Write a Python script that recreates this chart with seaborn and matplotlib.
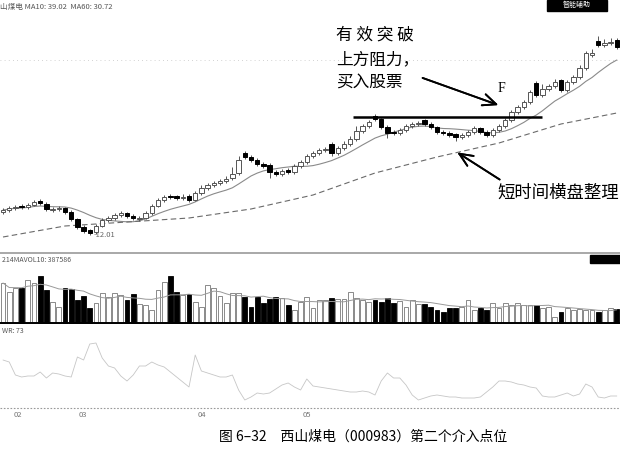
import numpy as np
import pandas as pd
import matplotlib
matplotlib.use("Agg")
import matplotlib.pyplot as plt
import seaborn as sns
from matplotlib.patches import Rectangle

# ---------------- data ----------------
opens = [13.15, 13.25, 13.35, 13.45, 13.40, 13.50, 13.70, 13.55, 13.25, 13.30,
         13.35, 13.15, 12.80, 12.40, 12.25, 12.15, 12.45, 12.75, 12.85, 13.00,
         13.10, 12.95, 12.80, 12.85, 13.10, 13.45, 13.75, 13.95, 13.95, 13.85,
         13.95, 13.75, 14.10, 14.35, 14.50, 14.60, 14.70, 14.85, 15.10, 16.10,
         15.90, 15.75, 15.55, 15.50, 15.15, 15.05, 15.25, 15.15, 15.45, 15.65,
         15.95, 16.10, 16.25, 16.55, 16.10, 16.35, 16.55, 16.80, 17.20, 17.45,
         17.95, 17.80, 17.40, 17.15, 17.10, 17.25, 17.45, 17.55, 17.75, 17.55,
         17.40, 17.15, 17.10, 17.05, 16.90, 17.00, 17.15, 17.35, 17.15, 17.00,
         17.25, 17.45, 17.75, 18.15, 18.40, 18.65, 19.60, 19.00, 19.30, 19.45,
         19.75, 19.25, 19.65, 19.90, 20.35, 21.00, 21.70, 21.50, 21.60, 21.75]
closes = [13.25, 13.35, 13.40, 13.40, 13.50, 13.65, 13.60, 13.30, 13.30, 13.35,
          13.15, 12.80, 12.40, 12.20, 12.10, 12.45, 12.75, 12.85, 13.00, 13.10,
          12.95, 12.85, 12.85, 13.10, 13.45, 13.75, 13.90, 13.90, 13.85, 13.90,
          13.75, 14.10, 14.35, 14.50, 14.60, 14.70, 14.80, 15.05, 15.75, 15.90,
          15.75, 15.55, 15.45, 15.15, 15.05, 15.20, 15.15, 15.45, 15.65, 15.95,
          16.10, 16.25, 16.30, 16.10, 16.35, 16.55, 16.80, 17.20, 17.45, 17.65,
          17.80, 17.40, 17.10, 17.10, 17.25, 17.45, 17.55, 17.60, 17.55, 17.40,
          17.15, 17.10, 17.00, 16.90, 17.00, 17.15, 17.35, 17.15, 17.00, 17.25,
          17.45, 17.75, 18.15, 18.40, 18.65, 19.15, 19.00, 19.30, 19.45, 19.65,
          19.25, 19.65, 19.90, 20.35, 21.10, 21.10, 21.50, 21.60, 21.65, 21.40]
highs = [13.35, 13.45, 13.50, 13.55, 13.60, 13.75, 13.80, 13.65, 13.40, 13.45,
         13.40, 13.25, 12.85, 12.50, 12.30, 12.55, 12.85, 12.95, 13.10, 13.20,
         13.15, 13.05, 12.95, 13.20, 13.55, 13.85, 14.00, 14.05, 14.00, 14.05,
         14.05, 14.20, 14.50, 14.60, 14.70, 14.80, 14.95, 15.40, 15.95, 16.20,
         16.00, 15.85, 15.65, 15.60, 15.25, 15.30, 15.35, 15.55, 15.75, 16.05,
         16.20, 16.35, 16.40, 16.65, 16.45, 16.70, 16.95, 17.45, 17.55, 17.75,
         18.05, 17.85, 17.50, 17.25, 17.35, 17.55, 17.65, 17.70, 17.80, 17.65,
         17.45, 17.25, 17.20, 17.10, 17.10, 17.25, 17.45, 17.40, 17.25, 17.35,
         17.55, 17.85, 18.25, 18.50, 18.75, 19.25, 19.70, 19.55, 19.55, 19.80,
         19.80, 19.75, 20.00, 20.50, 21.20, 21.30, 21.95, 21.80, 21.85, 21.85]
lows = [13.05, 13.15, 13.25, 13.30, 13.30, 13.45, 13.50, 13.20, 13.15, 13.20,
        13.05, 12.70, 12.30, 12.10, 12.01, 12.05, 12.40, 12.65, 12.75, 12.90,
        12.85, 12.75, 12.70, 12.80, 13.00, 13.40, 13.65, 13.80, 13.75, 13.75,
        13.65, 13.70, 14.00, 14.25, 14.40, 14.50, 14.60, 14.75, 15.00, 15.80,
        15.65, 15.45, 15.35, 14.85, 14.95, 14.95, 15.05, 15.05, 15.35, 15.55,
        15.85, 16.00, 16.15, 15.95, 16.00, 16.25, 16.45, 16.70, 17.10, 17.35,
        17.70, 17.30, 16.85, 17.00, 17.00, 17.15, 17.35, 17.45, 17.45, 17.30,
        17.05, 17.00, 16.90, 16.70, 16.80, 16.90, 17.05, 17.05, 16.90, 16.90,
        17.15, 17.35, 17.65, 18.05, 18.30, 18.55, 18.90, 18.90, 19.20, 19.35,
        19.15, 19.15, 19.55, 19.80, 20.25, 20.90, 21.40, 21.40, 21.50, 21.30]
volumes = [40, 31, 35, 35, 43, 40, 47, 33, 21, 16, 35, 34, 23, 27, 15, 20, 30, 26, 30, 28,
           23, 29, 19, 18, 13, 33, 41, 47, 31, 28, 29, 21, 16, 38, 35,
           27, 20, 30, 30, 26, 16, 26, 20, 24, 26, 25, 18, 13, 21, 26, 15, 23, 23, 25, 24,
           24, 31, 25, 23, 21, 23, 21, 25, 20, 22, 16,
           23, 19, 19, 16, 13, 11, 15, 15, 16, 23, 13, 15, 13, 20, 15, 20, 18, 20, 18, 18,
           18, 15, 16, 6, 11, 15, 13, 14, 13, 13, 11, 13, 15, 14]
indicator = [48, 46, 33, 31, 32, 32, 36, 30, 35, 34, 32, 31, 51, 48, 64, 65, 50, 42, 40, 32,
             27, 33, 42, 42, 46, 43, 41, 36, 31, 26, 21, 53, 37, 35, 33, 31, 31, 33, 18, 8,
             11, 15, 14, 15, 19, 23, 25, 21, 18, 29, 22, 21, 20, 19, 18, 17, 16, 16, 17, 16,
             13, 27, 35, 30, 30, 23, 13, 8, 10, 12, 13, 12, 11, 11, 10, 10, 10, 11, 16, 21,
             27, 27, 26, 24, 23, 21, 20, 12, 11, 11, 13, 15, 12, 14, 24, 21, 11, 10, 12, 12]
ma60_idx = [0, 10, 20, 30, 40, 50, 60, 70, 80, 90, 99]
ma60_val = [11.90, 12.45, 12.65, 12.85, 13.30, 14.00, 15.10, 15.90, 16.60, 17.55, 18.10]
date_ticks = [2.4, 12.9, 32.1, 49.0]
date_labels = ["02", "03", "04", "05"]
low_label = "12.01"
resist_level = 17.9
resist_from, resist_to = 56.5, 86.9
head_text = "山煤电 MA10: 39.02  MA60: 30.72"
vol_text = "214MAVOL10: 387586"
ind_text = "WR: 73"
caption = "图 6–32　西山煤电（000983）第二个介入点位"

# ---------------- style ----------------
sns.set_theme(style="white")
plt.rcParams['font.family'] = ['Noto Sans CJK SC', 'DejaVu Sans']
plt.rcParams['axes.unicode_minus'] = False

W, H = 620, 461
fig = plt.figure(figsize=(6.2, 4.61), dpi=100)
fig.patch.set_facecolor("white")

def fx(px):
    return px / W

def fy(py):
    return 1 - py / H

ax1 = fig.add_axes([0, fy(253), 1, 253 / H])
ax2 = fig.add_axes([0, fy(324), 1, 70 / H])
ax3 = fig.add_axes([0, fy(410), 1, 84 / H])

df = pd.DataFrame({"open": opens, "close": closes, "high": highs, "low": lows,
                   "vol": volumes, "ind": indicator})
df["x"] = np.arange(len(df))
df["ma10"] = df["close"].rolling(10, min_periods=1).mean()
df["mavol"] = df["vol"].rolling(10, min_periods=1).mean()
up = (df["close"] >= df["open"]).values
xs = df["x"].values

for ax in (ax1, ax2, ax3):
    ax.set_facecolor("white")
    ax.set_xlim(-0.484, 99.516)
    for s in ax.spines.values():
        s.set_visible(False)
    ax.set_xticks([])
    ax.set_yticks([])

# ---------------- price panel ----------------
ax1.set_ylim(11.1, 23.75)
ax1.axhline(20.75, color="#c4c4c4", lw=0.6, ls=(0, (1, 4)))
ax1.vlines(xs, df["low"], df["high"], color="#555555", lw=0.7, zorder=2)
bot = np.minimum(df["open"], df["close"]).values
hgt = np.maximum(np.abs(df["close"] - df["open"]).values, 0.04)
ax1.bar(xs[up], hgt[up], bottom=bot[up], width=0.7, color="white",
        edgecolor="#555555", linewidth=0.7, zorder=3)
ax1.bar(xs[~up], hgt[~up], bottom=bot[~up], width=0.7, color="black",
        edgecolor="black", linewidth=0.7, zorder=3)
sns.lineplot(data=df, x="x", y="ma10", ax=ax1, color="#8a8a8a", lw=0.8, zorder=1)
sns.lineplot(x=ma60_idx, y=ma60_val, ax=ax1, color="#6a6a6a", lw=0.8,
             linestyle=(0, (5, 3)), zorder=1)
ax1.hlines(resist_level, resist_from, resist_to, color="black", lw=1.8, zorder=4)
imin = int(np.argmin(lows))
ax1.text(imin + 0.6, lows[imin], "-" + low_label, fontsize=5.5, color="#666666",
         va="center", ha="left")
ax1.spines["bottom"].set_visible(True)
ax1.spines["bottom"].set_color("#999999")
ax1.spines["bottom"].set_linewidth(1.2)
ax1.set_xlabel("")
ax1.set_ylabel("")

# ---------------- volume panel ----------------
ax2.set_ylim(-1, 69)
ax2.bar(xs[up], df["vol"].values[up], width=0.75, color="white",
        edgecolor="#777777", linewidth=0.6)
ax2.bar(xs[~up], df["vol"].values[~up], width=0.75, color="black",
        edgecolor="black", linewidth=0.6)
sns.lineplot(data=df, x="x", y="mavol", ax=ax2, color="#999999", lw=0.7)
ax2.axhline(0, color="black", lw=1.4)
ax2.set_xlabel("")
ax2.set_ylabel("")

# ---------------- indicator panel ----------------
ax3.set_ylim(-2, 82)
sns.lineplot(data=df, x="x", y="ind", ax=ax3, color="#c6c6c6", lw=0.6)
ax3.axhline(0, color="#999999", lw=0.8, ls=(0, (1.5, 1.5)))
ax3.set_xticks(date_ticks)
ax3.set_xticklabels(date_labels)
ax3.tick_params(axis="x", length=0, labelsize=5.5, colors="#777777", pad=1)
ax3.set_xlabel("")
ax3.set_ylabel("")

# ---------------- texts and decorations ----------------
fig.text(fx(0), fy(7), head_text, fontsize=5.5, color="#555555", va="center")
fig.text(fx(2), fy(260), vol_text, fontsize=5, color="#555555", va="center")
fig.text(fx(2), fy(331), ind_text, fontsize=5, color="#555555", va="center")

fig.patches.append(Rectangle((fx(547), fy(11)), 60 / W, 11 / H,
                             transform=fig.transFigure, color="black"))
fig.text(fx(577), fy(5.5), "智能辅助", fontsize=5, color="white", ha="center", va="center")
fig.patches.append(Rectangle((fx(590), fy(263)), 30 / W, 8 / H,
                             transform=fig.transFigure, color="black"))

tk = dict(fontsize=12, color="black", va="center", ha="left")
fig.text(fx(336), fy(35), "有 效 突 破", **tk)
fig.text(fx(336), fy(60), "上方阻力，", **tk)
fig.text(fx(336), fy(83), "买入股票", **tk)
fig.text(fx(497), fy(193), "短时间横盘整理", fontsize=12.5, color="black", va="center", ha="left")
fig.text(fx(498), fy(89), "F", fontsize=10, color="black", va="center", ha="left",
         family="Liberation Serif")

arrow = dict(arrowstyle="->,head_length=0.8,head_width=0.35", color="black", lw=1.3)
fig.add_artist(plt.annotate("", xy=(fx(501), fy(106)), xytext=(fx(420), fy(77)),
                            xycoords="figure fraction", textcoords="figure fraction",
                            arrowprops=arrow))
fig.add_artist(plt.annotate("", xy=(fx(455), fy(151)), xytext=(fx(502), fy(181)),
                            xycoords="figure fraction", textcoords="figure fraction",
                            arrowprops=arrow))

fig.text(fx(363), fy(437), caption, fontsize=10, color="black", ha="center",
         va="center", weight="medium")

fig.savefig("out.png", dpi=100, facecolor="white")
